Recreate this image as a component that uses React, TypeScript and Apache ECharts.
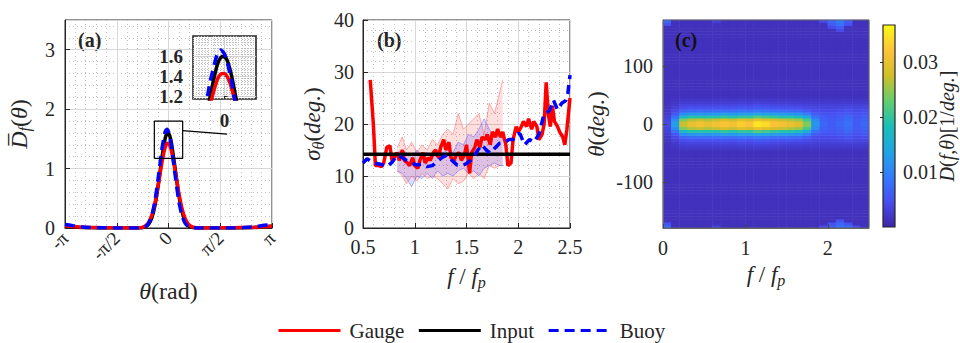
import React, { useEffect, useRef } from "react";
import * as echarts from "echarts";

const PI = Math.PI;
const FONT = "Liberation Serif";
const INK = "#262626";

// ---------------- panel (a): mean directional distribution ----------------
const thetaTickLabels = ["-π", "-π/2", "0", "π/2", "π"];
const thetaRad = [
  -3.1416, -2.9, -2.6, -2.3, -2.0, -1.6, -1.2,
  -1.0, -0.9, -0.8, -0.7, -0.6, -0.5, -0.4, -0.3, -0.2, -0.1,
  -0.05, 0, 0.05,
  0.1, 0.2, 0.3, 0.4, 0.5, 0.6, 0.7, 0.8, 0.9, 1.0,
  1.2, 1.6, 2.0, 2.3, 2.6, 2.9, 3.1416,
];
const inputD = [
  0.03, 0.02, 0.008, 0.003, 0.001, 0, 0,
  0, 0.001, 0.005, 0.02, 0.067, 0.18, 0.41, 0.765, 1.18, 1.51,
  1.587, 1.594, 1.53,
  1.39, 1.01, 0.6, 0.3, 0.124, 0.042, 0.012, 0.003, 0.001, 0,
  0, 0, 0.001, 0.003, 0.008, 0.02, 0.03,
];
const gaugeD = [
  0.035, 0.025, 0.012, 0.008, 0.006, 0.004, 0.002,
  0.001, 0.003, 0.011, 0.035, 0.097, 0.227, 0.45, 0.764, 1.1, 1.36,
  1.42, 1.425, 1.375,
  1.27, 0.97, 0.63, 0.35, 0.165, 0.066, 0.023, 0.007, 0.002, 0.001,
  0.002, 0.004, 0.006, 0.008, 0.012, 0.02, 0.03,
];
const buoyD = [
  0.06, 0.04, 0.018, 0.007, 0.003, 0.001, 0,
  0, 0.001, 0.006, 0.026, 0.084, 0.225, 0.495, 0.895, 1.33, 1.62,
  1.66, 1.62, 1.5,
  1.33, 0.895, 0.495, 0.225, 0.084, 0.026, 0.006, 0.001, 0, 0,
  0, 0.001, 0.003, 0.007, 0.02, 0.045, 0.06,
];
// zoom window shown in the inset, and the pointer line
const zoomTheta = [-0.43, 0.43];
const zoomD = [1.17, 1.8];
const insetYTicks = [1.2, 1.4, 1.6];
const insetXTicks = [0];
const pointerTheta = [0.43, 1.78];
const pointerD = [1.64, 1.58];

// ---------------- panel (b): directional spread ----------------
const gaugeF = [0.57, 0.6, 0.62, 0.65, 0.68, 0.7, 0.73, 0.76, 0.78, 0.8, 0.83, 0.85, 0.88, 0.9, 0.93, 0.95, 0.98, 1.0, 1.03, 1.05, 1.08, 1.1, 1.13, 1.15, 1.18, 1.2, 1.23, 1.25, 1.28, 1.3, 1.33, 1.35, 1.38, 1.4, 1.43, 1.45, 1.48, 1.5, 1.53, 1.55, 1.58, 1.6, 1.63, 1.65, 1.68, 1.7, 1.73, 1.75, 1.78, 1.8, 1.83, 1.85, 1.88, 1.9, 1.93, 1.95, 1.98, 2.0, 2.03, 2.05, 2.08, 2.1, 2.13, 2.15, 2.18, 2.2, 2.23, 2.25, 2.27, 2.29, 2.31, 2.33, 2.35, 2.38, 2.4, 2.43, 2.45, 2.47, 2.5];
const gaugeSigma = [28.5, 20, 12, 12, 11.8, 12.5, 15.5, 15.8, 13, 13.5, 14.5, 13, 15, 13, 12.5, 12, 13.5, 12, 11.5, 13, 14.5, 12.5, 13.5, 13, 14.5, 15, 13.5, 15.5, 17, 15, 16.5, 13.5, 13, 14, 14.5, 13, 14, 16, 10.5, 14.5, 15.5, 17, 15.5, 17.5, 17, 18, 16, 18.5, 17.5, 19, 17.5, 18.5, 16, 12, 12.5, 17, 19.5, 18.5, 19.5, 20.5, 19.5, 21, 19, 20.5, 19.5, 17, 18, 20, 28, 22, 19.5, 23.5, 20.5, 19.5, 18.5, 17.5, 16, 19, 25];
const buoyF = [0.5, 0.54, 0.58, 0.63, 0.68, 0.73, 0.78, 0.83, 0.88, 0.92, 0.97, 1.02, 1.07, 1.12, 1.17, 1.21, 1.26, 1.31, 1.36, 1.41, 1.46, 1.5, 1.54, 1.57, 1.61, 1.65, 1.69, 1.73, 1.78, 1.82, 1.87, 1.91, 1.95, 2.0, 2.02, 2.06, 2.11, 2.15, 2.2, 2.25, 2.3, 2.34, 2.38, 2.42, 2.46, 2.48, 2.5];
const buoySigma = [12.5, 13.3, 12.8, 12.4, 12.2, 11.8, 12.6, 14, 13.5, 13, 12.5, 12.1, 12.3, 11.8, 12, 12.7, 13.5, 14, 13, 12.1, 12, 12.4, 13, 13.7, 15, 16, 15, 14.4, 15.5, 16.3, 16.5, 17, 17, 18.2, 18, 16, 17, 16.5, 18, 22, 22.5, 24.6, 22.7, 24, 24.5, 26, 29.4];
const inputSigma = 14.2;
const fRangeB = [0.5, 2.5];
const bandF = [0.83, 0.88, 0.92, 0.97, 1.02, 1.07, 1.12, 1.17, 1.22, 1.27, 1.32, 1.37, 1.42, 1.47, 1.52, 1.57, 1.62, 1.67, 1.72, 1.77, 1.82, 1.85];
const gaugeUpper = [15.5, 17.5, 15, 16.5, 14.5, 16, 15, 17, 16, 18, 19, 18, 22, 19, 20, 21, 22, 18, 24, 22, 26, 28.5];
const gaugeLower = [11, 10, 8.5, 10, 9, 10.5, 9.5, 10, 9.5, 8.5, 7.5, 9.5, 8.5, 9, 10.5, 9.5, 10.5, 9.5, 12, 11.5, 12, 12];
const buoyUpper = [14.5, 15, 14.5, 13.5, 15, 14, 14.5, 13.5, 15, 14.5, 15, 14.5, 16.5, 16, 18, 17.5, 19, 21, 19, 17.5, 18, 17];
const buoyLower = [11, 10.5, 9.5, 8, 10, 9.5, 10.5, 9.5, 11, 10, 10.5, 10, 11, 11.5, 10.5, 11, 10, 11.5, 12, 12.5, 12, 12];

// ---------------- panel (c): D(f, theta) ----------------
// 25 frequency columns (0.1 wide) x 72 direction rows (5 deg wide)
const heatF = [0.05, 0.15, 0.25, 0.35, 0.45, 0.55, 0.65, 0.75, 0.85, 0.95, 1.05, 1.15, 1.25, 1.35, 1.45, 1.55, 1.65, 1.75, 1.85, 1.95, 2.05, 2.15, 2.25, 2.35, 2.45];
const heatTheta = Array.from({ length: 72 }, (_, k) => -177.5 + 5 * k);
const heatBackground = 0.0013;
// band rows, keyed by |theta| of the row centre
const bandRow2 = [0.004, 0.013, 0.027, 0.03, 0.031, 0.03, 0.031, 0.032, 0.031, 0.033, 0.032, 0.035, 0.034, 0.032, 0.031, 0.03, 0.029, 0.024, 0.012, 0.007, 0.006, 0.007, 0.008, 0.006, 0.007];
const bandRow7 = [0.0035, 0.011, 0.024, 0.026, 0.027, 0.026, 0.027, 0.028, 0.027, 0.029, 0.028, 0.03, 0.029, 0.028, 0.027, 0.026, 0.025, 0.021, 0.011, 0.0065, 0.006, 0.0065, 0.0075, 0.006, 0.0065];
const bandRow12 = [0.003, 0.008, 0.017, 0.019, 0.019, 0.019, 0.019, 0.02, 0.019, 0.02, 0.02, 0.022, 0.021, 0.02, 0.019, 0.019, 0.018, 0.015, 0.008, 0.006, 0.0055, 0.006, 0.007, 0.0055, 0.006];
const bandRow17 = [0.0025, 0.0055, 0.011, 0.012, 0.0125, 0.012, 0.0125, 0.013, 0.0125, 0.013, 0.013, 0.014, 0.0135, 0.013, 0.0125, 0.012, 0.0115, 0.0095, 0.006, 0.005, 0.005, 0.0055, 0.006, 0.005, 0.0055];
const bandRow22 = [0.002, 0.004, 0.0068, 0.0075, 0.0078, 0.0075, 0.0078, 0.008, 0.0078, 0.0083, 0.008, 0.0088, 0.0085, 0.008, 0.0078, 0.0075, 0.0073, 0.006, 0.0045, 0.0042, 0.0042, 0.0045, 0.005, 0.0042, 0.0045];
const bandRow27 = [0.0018, 0.003, 0.0045, 0.005, 0.005, 0.005, 0.005, 0.0052, 0.005, 0.0055, 0.0052, 0.0058, 0.0056, 0.0052, 0.005, 0.005, 0.0048, 0.0042, 0.0038, 0.0036, 0.0036, 0.0038, 0.004, 0.0036, 0.0038];
const bandRow32 = [0.0015, 0.0024, 0.0034, 0.0036, 0.0036, 0.0036, 0.0036, 0.0038, 0.0036, 0.004, 0.0038, 0.0042, 0.004, 0.0038, 0.0036, 0.0036, 0.0035, 0.0032, 0.003, 0.003, 0.003, 0.0031, 0.0032, 0.003, 0.0031];
const bandRow37 = [0.0014, 0.002, 0.0026, 0.0027, 0.0027, 0.0027, 0.0027, 0.0028, 0.0027, 0.0029, 0.0028, 0.003, 0.0029, 0.0028, 0.0027, 0.0027, 0.0026, 0.0025, 0.0024, 0.0024, 0.0024, 0.0024, 0.0025, 0.0024, 0.0024];
const bandRow42 = [0.0013, 0.0017, 0.002, 0.002, 0.002, 0.002, 0.002, 0.0021, 0.002, 0.0021, 0.0021, 0.0022, 0.0021, 0.0021, 0.002, 0.002, 0.002, 0.0019, 0.0019, 0.0019, 0.0019, 0.0019, 0.0019, 0.0019, 0.0019];
const heatSpots = [
  [0.05, 177.5, 0.007], [0.05, 172.5, 0.005], [0.05, -177.5, 0.007], [0.05, -172.5, 0.005],
  [0.65, 177.5, 0.003], [0.65, -177.5, 0.003],
  [1.95, 177.5, 0.004], [2.05, 177.5, 0.007], [2.05, 172.5, 0.006], [2.15, 177.5, 0.009], [2.15, 172.5, 0.008],
  [2.15, 167.5, 0.006], [2.15, 162.5, 0.004], [2.25, 177.5, 0.006], [2.25, 172.5, 0.005], [2.05, 167.5, 0.004],
  [1.95, -177.5, 0.004], [2.05, -177.5, 0.006], [2.05, -172.5, 0.005], [2.15, -177.5, 0.008], [2.15, -172.5, 0.007],
  [2.15, -167.5, 0.005], [2.25, -177.5, 0.007], [2.25, -172.5, 0.005], [2.35, -177.5, 0.004],
];
const colorbarMax = 0.0367;
const colorbarTicks = [0.01, 0.02, 0.03];
const PARULA = ["#3E26A8", "#484DF0", "#327CFC", "#20A5E3", "#19BFB6", "#64CD6F", "#D1BF27", "#FEC338", "#F9FB15"];

const legendNames = ["Gauge", "Input", "Buoy"];

const zip = (xs: number[], ys: number[]) => xs.map((x, i) => [x, ys[i]]);

function nameStyle(size: number) {
  return {
    fontFamily: FONT,
    fontSize: size,
    color: INK,
    rich: {
      i: { fontFamily: FONT, fontSize: size, fontStyle: "italic", color: INK },
      n: { fontFamily: FONT, fontSize: size, color: INK },
      s: { fontFamily: FONT, fontSize: Math.round(size * 0.68), fontStyle: "italic", color: INK, padding: [11, 0, 0, 0] },
    },
  };
}

const tickText = { fontFamily: FONT, fontSize: 20, color: INK };

function valAxis(o: any) {
  return {
    type: "value",
    axisLine: { show: true, onZero: false, lineStyle: { color: INK, width: 1 } },
    axisTick: { show: true, inside: true, length: 5, lineStyle: { color: INK } },
    axisLabel: { ...tickText, margin: 9 },
    splitLine: { show: true, lineStyle: { color: "#d8d8d8", width: 1 } },
    minorTick: { show: false, splitNumber: 5 },
    minorSplitLine: { show: true, lineStyle: { color: "#c2c2c2", width: 1, type: [1, 3] } },
    nameLocation: "middle",
    ...o,
  };
}

function bandSeries(name: string, upper: number[], lower: number[], fill: string) {
  return {
    type: "custom",
    name,
    xAxisIndex: 2,
    yAxisIndex: 2,
    silent: true,
    z: 1,
    data: bandF.map((f, i) => [f, upper[i], lower[i]]),
    encode: { x: 0, y: [1, 2] },
    renderItem: (params: any, api: any) => {
      if (params.dataIndex !== 0) return null;
      const up = bandF.map((f, i) => api.coord([f, upper[i]]));
      const lo = bandF.map((f, i) => api.coord([f, lower[i]])).reverse();
      return { type: "polygon", shape: { points: up.concat(lo) }, style: { fill, stroke: "none" } };
    },
  };
}

function buildOption() {
  const series: any[] = [];
  const lineBase = { type: "line", symbol: "none", showSymbol: false, silent: true };

  // ---- (a) main
  series.push({ ...lineBase, name: "Input", xAxisIndex: 0, yAxisIndex: 0, data: zip(thetaRad, inputD), smooth: 0.2, lineStyle: { color: "#000", width: 3.5 }, itemStyle: { color: "#000" } });
  series.push({ ...lineBase, name: "Gauge", xAxisIndex: 0, yAxisIndex: 0, data: zip(thetaRad, gaugeD), smooth: 0.2, lineStyle: { color: "#ff0000", width: 3.5 }, itemStyle: { color: "#ff0000" } });
  series.push({ ...lineBase, name: "Buoy", xAxisIndex: 0, yAxisIndex: 0, data: zip(thetaRad, buoyD), smooth: 0.2, lineStyle: { color: "#0000ff", width: 3.5, type: [10, 6] }, itemStyle: { color: "#0000ff" } });
  series.push({
    ...lineBase, name: "_zoombox", xAxisIndex: 0, yAxisIndex: 0, z: 3,
    data: [[zoomTheta[0], zoomD[0]], [zoomTheta[1], zoomD[0]], [zoomTheta[1], zoomD[1]], [zoomTheta[0], zoomD[1]], [zoomTheta[0], zoomD[0]]],
    lineStyle: { color: "#000", width: 1.2 },
  });
  series.push({ ...lineBase, name: "_pointer", xAxisIndex: 0, yAxisIndex: 0, z: 3, data: zip(pointerTheta, pointerD), lineStyle: { color: "#000", width: 1.2 } });

  // ---- (a) inset
  series.push({ ...lineBase, name: "Input", xAxisIndex: 1, yAxisIndex: 1, z: 5, data: zip(thetaRad, inputD), smooth: 0.2, lineStyle: { color: "#000", width: 3.5 } });
  series.push({ ...lineBase, name: "Gauge", xAxisIndex: 1, yAxisIndex: 1, z: 5, data: zip(thetaRad, gaugeD), smooth: 0.2, lineStyle: { color: "#ff0000", width: 3.5 } });
  series.push({ ...lineBase, name: "Buoy", xAxisIndex: 1, yAxisIndex: 1, z: 5, data: zip(thetaRad, buoyD), smooth: 0.2, lineStyle: { color: "#0000ff", width: 3.5, type: [10, 6] } });

  // ---- (b) uncertainty bands
  series.push(bandSeries("_gband", gaugeUpper, gaugeLower, "rgba(255,0,0,0.13)"));
  series.push(bandSeries("_bband", buoyUpper, buoyLower, "rgba(0,0,255,0.13)"));
  series.push({ ...lineBase, name: "_gu_e", xAxisIndex: 2, yAxisIndex: 2, data: zip(bandF, gaugeUpper), lineStyle: { color: "rgba(255,80,80,0.45)", width: 1 } });
  series.push({ ...lineBase, name: "_gl_e", xAxisIndex: 2, yAxisIndex: 2, data: zip(bandF, gaugeLower), lineStyle: { color: "rgba(255,80,80,0.45)", width: 1 } });
  series.push({ ...lineBase, name: "_bu_e", xAxisIndex: 2, yAxisIndex: 2, data: zip(bandF, buoyUpper), lineStyle: { color: "rgba(80,80,255,0.45)", width: 1 } });
  series.push({ ...lineBase, name: "_bl_e", xAxisIndex: 2, yAxisIndex: 2, data: zip(bandF, buoyLower), lineStyle: { color: "rgba(80,80,255,0.45)", width: 1 } });
  // ---- (b) lines
  series.push({ ...lineBase, name: "Gauge", xAxisIndex: 2, yAxisIndex: 2, z: 3, data: zip(gaugeF, gaugeSigma), lineStyle: { color: "#ff0000", width: 3.5 } });
  series.push({ ...lineBase, name: "Input", xAxisIndex: 2, yAxisIndex: 2, z: 3, data: [[fRangeB[0], inputSigma], [fRangeB[1], inputSigma]], lineStyle: { color: "#000", width: 3.5 } });
  series.push({ ...lineBase, name: "Buoy", xAxisIndex: 2, yAxisIndex: 2, z: 3, data: zip(buoyF, buoySigma), lineStyle: { color: "#0000ff", width: 3.5, type: [9, 6] } });

  // ---- (c) heatmap
  const heatData: number[][] = [];
  const bandRows: Record<string, number[]> = {
    "2.5": bandRow2, "7.5": bandRow7, "12.5": bandRow12, "17.5": bandRow17, "22.5": bandRow22,
    "27.5": bandRow27, "32.5": bandRow32, "37.5": bandRow37, "42.5": bandRow42,
  };
  heatTheta.forEach((th, j) => {
    const row = bandRows[String(Math.abs(th))];
    heatF.forEach((f, i) => {
      let v = row ? row[i] : heatBackground;
      heatSpots.forEach((s) => {
        if (Math.abs(s[0] - f) < 1e-6 && s[1] === th) v = s[2];
      });
      heatData.push([i, j, v]);
    });
  });
  const heatIndex = series.length;
  series.push({ type: "heatmap", name: "_heat", xAxisIndex: 3, yAxisIndex: 3, data: heatData, silent: true, emphasis: { disabled: true }, itemStyle: { borderWidth: 0 } });

  const cbGradient = new echarts.graphic.LinearGradient(
    0, 1, 0, 0,
    PARULA.map((c, k) => ({ offset: k / (PARULA.length - 1), color: c }))
  );

  const grid = [
    { left: 65, top: 20, width: 207, height: 208, show: true, borderColor: INK, borderWidth: 1, backgroundColor: "transparent" },
    { left: 193, top: 36, width: 63, height: 63, show: true, borderColor: INK, borderWidth: 1.6, backgroundColor: "#ffffff", z: 3 },
    { left: 363, top: 20, width: 207, height: 208, show: true, borderColor: INK, borderWidth: 1, backgroundColor: "transparent" },
    { left: 663, top: 20, width: 206, height: 208, show: false },
    { left: 663, top: 20, width: 206, height: 208, show: true, borderColor: "#666", borderWidth: 1, backgroundColor: "transparent", z: 5 },
    { left: 883, top: 25, width: 12, height: 202, show: true, borderColor: INK, borderWidth: 1.2, backgroundColor: cbGradient },
  ];

  const xAxis = [
    valAxis({
      gridIndex: 0, min: -PI, max: PI, interval: PI / 2,
      axisLabel: { ...tickText, fontSize: 19, rotate: 45, margin: 7, formatter: (v: number) => thetaTickLabels[Math.round(v / (PI / 2)) + 2] },
      name: "{i|θ}{n|(rad)}", nameGap: 51, nameTextStyle: nameStyle(24),
    }),
    valAxis({
      gridIndex: 1, min: zoomTheta[0], max: zoomTheta[1], z: 4,
      axisLine: { show: false },
      axisTick: { show: true, inside: true, length: 3, customValues: insetXTicks, lineStyle: { color: INK } },
      axisLabel: { ...tickText, fontSize: 19, fontWeight: "bold", margin: 12, customValues: insetXTicks },
      splitLine: { show: true, lineStyle: { color: "#d0d0d0", width: 1 } },
      minorSplitLine: { show: true, lineStyle: { color: "#bdbdbd", width: 1, type: [1, 2] } },
    }),
    valAxis({
      gridIndex: 2, min: fRangeB[0], max: fRangeB[1], interval: 0.5,
      name: "{i|f}{n| / }{i|f}{s|p}", nameGap: 35, nameTextStyle: nameStyle(23),
    }),
    { type: "category", gridIndex: 3, data: heatF.map(String), show: false },
    valAxis({
      gridIndex: 4, min: 0, max: 2.5, interval: 1, z: 6,
      axisLine: { show: true, onZero: false, lineStyle: { color: "#666", width: 1 } },
      axisTick: { show: true, inside: true, length: 4, lineStyle: { color: "#444" } },
      axisLabel: { ...tickText, margin: 10, showMaxLabel: false },
      splitLine: { show: false }, minorSplitLine: { show: false },
      name: "{i|f}{n| / }{i|f}{s|p}", nameGap: 33, nameTextStyle: nameStyle(23),
    }),
    { type: "value", gridIndex: 5, show: false, min: 0, max: 1 },
  ];

  const yAxis = [
    valAxis({
      gridIndex: 0, min: 0, max: 3.5, interval: 1,
      axisLabel: { ...tickText, margin: 10, showMaxLabel: false },
      name: "{i|D\u0305}{s|f}{n|(}{i|θ}{n|)}", nameGap: 33, nameTextStyle: nameStyle(24),
    }),
    valAxis({
      gridIndex: 1, min: zoomD[0], max: zoomD[1], z: 4,
      axisLine: { show: false },
      axisTick: { show: true, inside: true, length: 3, customValues: insetYTicks, lineStyle: { color: INK } },
      axisLabel: { ...tickText, fontSize: 19, fontWeight: "bold", margin: 10, customValues: insetYTicks, formatter: (v: number) => v.toFixed(1) },
      splitLine: { show: true, lineStyle: { color: "#d0d0d0", width: 1 } },
      minorSplitLine: { show: true, lineStyle: { color: "#bdbdbd", width: 1, type: [1, 2] } },
    }),
    valAxis({
      gridIndex: 2, min: 0, max: 40, interval: 10,
      name: "{i|σ}{s|θ}{n|(}{i|deg.}{n|)}", nameGap: 37, nameTextStyle: nameStyle(23),
    }),
    { type: "category", gridIndex: 3, data: heatTheta.map(String), show: false },
    valAxis({
      gridIndex: 4, min: -180, max: 180, z: 6,
      axisLine: { show: true, onZero: false, lineStyle: { color: "#666", width: 1 } },
      axisTick: { show: true, inside: true, length: 4, customValues: [-100, 0, 100], lineStyle: { color: "#444" } },
      axisLabel: { ...tickText, margin: 10, customValues: [-100, 0, 100] },
      splitLine: { show: false }, minorSplitLine: { show: false },
      name: "{i|θ}{n|(}{i|deg.}{n|)}", nameGap: 55, nameTextStyle: nameStyle(23),
    }),
    {
      type: "value", gridIndex: 5, position: "right", min: 0, max: colorbarMax,
      axisLine: { show: false },
      axisTick: { show: true, inside: true, length: 3, customValues: colorbarTicks, lineStyle: { color: INK } },
      axisLabel: { ...tickText, margin: 8, customValues: colorbarTicks, formatter: (v: number) => v.toFixed(2) },
      splitLine: { show: false },
    },
  ];

  const richLabel = {
    i: { fontFamily: FONT, fontSize: 20, fontStyle: "italic", fill: INK, color: INK },
    n: { fontFamily: FONT, fontSize: 20, fill: INK, color: INK },
  };

  return {
    animation: false,
    backgroundColor: "#ffffff",
    textStyle: { fontFamily: FONT },
    grid, xAxis, yAxis, series,
    visualMap: {
      type: "continuous", show: false, min: 0, max: colorbarMax, dimension: 2,
      seriesIndex: heatIndex, inRange: { color: PARULA },
    },
    legend: {
      data: legendNames, left: 272, top: 315, itemWidth: 62, itemHeight: 14, itemGap: 13,
      selectedMode: false,
      lineStyle: { width: 3 },
      itemStyle: { opacity: 0 },
      textStyle: { fontFamily: FONT, fontSize: 21, color: INK, padding: [0, 0, 0, 4] },
    },
    graphic: [
      { type: "text", x: 78, y: 40, silent: true, style: { text: "(a)", font: `bold 20px ${FONT}`, fill: INK, verticalAlign: "middle", textVerticalAlign: "middle" } },
      { type: "text", x: 377, y: 40, silent: true, style: { text: "(b)", font: `bold 20px ${FONT}`, fill: INK, verticalAlign: "middle", textVerticalAlign: "middle" } },
      { type: "text", x: 675, y: 40, z: 10, silent: true, style: { text: "(c)", font: `bold 20px ${FONT}`, fill: "#111", verticalAlign: "middle", textVerticalAlign: "middle" } },
      {
        type: "text", x: 947, y: 126, rotation: PI / 2, silent: true,
        style: {
          text: "{i|D}{n|(}{i|f,θ}{n|)[1/}{i|deg.}{n|]}",
          rich: richLabel, font: `20px ${FONT}`, fill: INK,
          align: "center", verticalAlign: "middle", textAlign: "center", textVerticalAlign: "middle",
        },
      },
    ],
  };
}

export default function App() {
  const ref = useRef<HTMLDivElement>(null);
  useEffect(() => {
    const chart = echarts.init(ref.current as HTMLDivElement, null, { renderer: "svg" });
    chart.setOption(buildOption() as any);
    return () => chart.dispose();
  }, []);
  return <div ref={ref} style={{ position: "fixed", left: 0, top: 0, width: 960, height: 343 }} />;
}
